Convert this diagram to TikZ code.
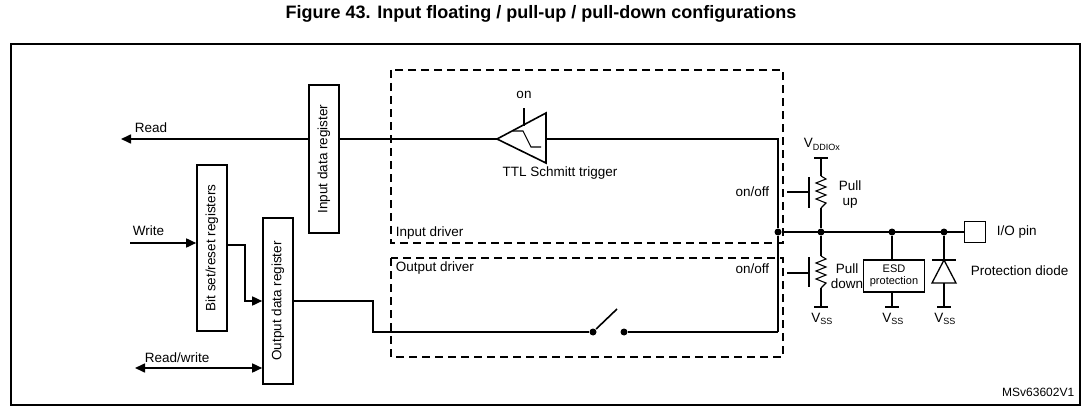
\documentclass[tikz,border=0pt]{standalone}
\usepackage{fontspec}
\setmainfont{Liberation Sans}
\usetikzlibrary{arrows.meta}
\newcommand{\subsz}{\fontsize{9}{10}\selectfont}
\begin{document}
\begin{tikzpicture}[x=1pt,y=-1pt,line width=1.6pt,font=\fontsize{13.5}{15}\selectfont,
    reg/.style={draw,fill=white,inner sep=0,minimum width=30},
    regt/.style={rotate=90,inner sep=0},
    drv/.style={draw,dash pattern=on 8pt off 5pt,line width=1.1pt},
    dot/.style={circle,fill,inner sep=0,minimum size=7},
    arr/.style={-{Triangle[length=10pt,width=9pt]}},
    lbl/.style={inner sep=1pt}]
    \useasboundingbox (0,0) rectangle (1082,412);
    \node[font=\fontsize{18}{20}\selectfont\bfseries] (title) at (541,14) {Figure 43. Input floating / pull-up / pull-down configurations};
    \draw[line width=1.8pt] (11,44) rectangle (1080,405);
    % drivers
    \draw[drv] (391,70) rectangle (783,243);
    \draw[drv] (391,258) rectangle (783,357);
    \node[lbl,anchor=south west] (indrv) at (394,241) {Input driver};
    \node[lbl,anchor=north west] (outdrv) at (394,260) {Output driver};
    % schmitt trigger
    \coordinate (tip) at (497,139);
    \coordinate (ta) at (546,113);
    \coordinate (tb) at (546,163);
    \coordinate (readend) at (121,139);
    \draw[arr] (tip) -- (readend);
    \draw (tip) -- (ta) -- (tb) -- cycle;
    \draw[line width=1.1pt] (513,131) -- (523,131) -- (531,147) -- (541,147);
    \draw (524,108) -- (524,126);
    \node[lbl] (on) at (524,95) {on};
    \node[lbl] (ttl) at (560,173) {TTL Schmitt trigger};
    \node[lbl,anchor=south west] (rd) at (133,134) {Read};
    % registers
    \node[reg,minimum height=148] (idr) at (324,159) {};
    \node[regt] at (idr) {Input data register};
    \node[reg,minimum height=166] (bsr) at (212,248) {};
    \node[regt] at (bsr) {Bit set/reset registers};
    \node[reg,minimum height=166] (odr) at (278,301) {};
    \node[regt] at (odr) {Output data register};
    % right rail
    \coordinate (rtop) at (778,139);
    \node[dot] (n1) at (778,232) {};
    \coordinate (rbot) at (778,332);
    \draw (tb |- rtop) -- (rtop) -- (n1) -- (rbot);
    % write side
    \coordinate (wr) at (130,243);
    \draw[arr] (wr) -- (bsr.west |- wr);
    \node[lbl,anchor=south west] (wrl) at (131,237) {Write};
    \draw[arr] (bsr.east |- 0,245) -- (245,245) -- (245,301) -- (odr.west);
    \coordinate (rw) at (135,368);
    \draw[{Triangle[length=10pt,width=9pt]}-{Triangle[length=10pt,width=9pt]}] (rw) -- (odr.west |- rw);
    \node[lbl,anchor=south west] (rwl) at (143,364) {Read/write};
    % switch
    \node[dot] (s1) at (593,332) {};
    \node[dot] (s2) at (624,332) {};
    \draw (odr.east) -- (373,301) -- (373,332) -- (s1);
    \draw (s1) -- (617,309);
    \draw (s2) -- (rbot);
    % pad line
    \node[dot] (n2) at (821,232) {};
    \node[dot] (n3) at (892,232) {};
    \node[dot] (n4) at (944,232) {};
    \node[draw,minimum size=21,inner sep=0] (pin) at (975,232) {};
    \draw (n1) -- (pin);
    \node[lbl,anchor=west] (pinl) at (995,232) {I/O pin};
    % pull-up
    \coordinate (vdd) at (821,158);
    \draw (814,158) -- (828,158);
    \draw (vdd) -- (821,176) (821,208) -- (n2);
    \draw (809,177) -- (809,208);
    \draw (787,192) -- (809,192);
    \draw[line width=1.1pt] (821,176) -- (826,179) -- (816,183) -- (826,187) -- (816,191) -- (826,195) -- (816,199) -- (826,203) -- (821,208);
    \node[lbl,anchor=south] (vddl) at (822,152) {V\textsubscript{\subsz DDIOx}};
    \node[lbl,anchor=east] (pu) at (771,192) {on/off};
    \node[lbl,align=center] (pul) at (850,195) {Pull\\up};
    % pull-down
    \coordinate (vss1) at (821,307);
    \draw (814,307) -- (828,307);
    \draw (n2) -- (821,256) (821,288) -- (vss1);
    \draw (809,257) -- (809,287);
    \draw (787,273) -- (809,273);
    \draw[line width=1.1pt] (821,256) -- (826,259) -- (816,263) -- (826,267) -- (816,271) -- (826,275) -- (816,279) -- (826,283) -- (821,288);
    \node[lbl,anchor=north] (vss1l) at (822,311) {V\textsubscript{\subsz SS}};
    \node[lbl,anchor=east] (pd) at (771,269) {on/off};
    \node[lbl,align=center] (pdl) at (847,276) {Pull\\down};
    % esd
    \node[draw,line width=1.1pt,minimum width=61,minimum height=32,inner sep=0,align=center,font=\fontsize{11}{12}\selectfont] (esd) at (894,276) {ESD\\protection};
    \coordinate (vss2) at (892,307);
    \draw (n3) -- (n3 |- esd.north) (n3 |- esd.south) -- (vss2);
    \draw (885,307) -- (899,307);
    \node[lbl,anchor=north] (vss2l) at (893,311) {V\textsubscript{\subsz SS}};
    % diode
    \coordinate (vss3) at (944,307);
    \draw (n4) -- (944,260);
    \draw (932,260) -- (956,260);
    \draw[line width=1.3pt] (944,260) -- (932,283) -- (956,283) -- cycle;
    \draw (944,283) -- (vss3);
    \draw (937,307) -- (951,307);
    \node[lbl,anchor=north] (vss3l) at (945,311) {V\textsubscript{\subsz SS}};
    \node[lbl,anchor=west] (diol) at (969,271) {Protection diode};
    \node[lbl,anchor=east,font=\fontsize{12}{13}\selectfont] (ref) at (1076,392) {MSv63602V1};
\end{tikzpicture}
\end{document}
